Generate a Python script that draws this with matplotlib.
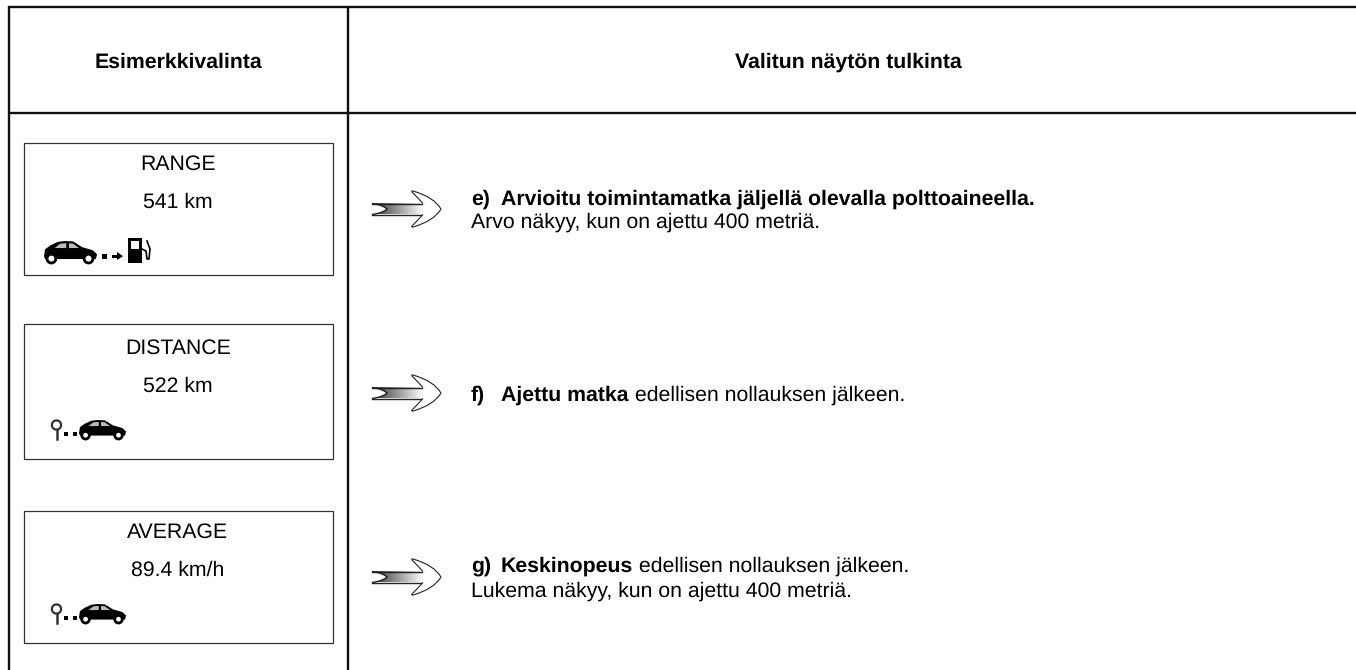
import numpy as np
import matplotlib
matplotlib.use("Agg")
import matplotlib.pyplot as plt
from matplotlib.patches import Rectangle, Circle, Polygon, PathPatch
from matplotlib.path import Path

plt.rcParams['font.family'] = ['Liberation Sans', 'DejaVu Sans']
plt.rcParams['text.hinting'] = 'no_hinting'
plt.rcParams['text.hinting_factor'] = 8

W, H = 1356, 670

col_titles = ["Esimerkkivalinta", "Valitun näytön tulkinta"]
box_titles = ["RANGE", "DISTANCE", "AVERAGE"]
box_values = ["541 km", "522 km", "89.4 km/h"]
note_tags = ["e)", "f)", "g)"]
note_bold = ["Arvioitu toimintamatka jäljellä olevalla polttoaineella.", "Ajettu matka", "Keskinopeus"]
note_rest = ["", " edellisen nollauksen jälkeen.", " edellisen nollauksen jälkeen."]
note_second = ["Arvo näkyy, kun on ajettu 400 metriä.", "", "Lukema näkyy, kun on ajettu 400 metriä."]

fig = plt.figure(figsize=(W / 100, H / 100), dpi=100)
ax = fig.add_axes([0, 0, 1, 1])
ax.set_xlim(0, W)
ax.set_ylim(H, 0)
ax.axis("off")

# table frame, no right edge in the original
ax.plot([8.5, 8.5], [6, 670], color="#111111", lw=1.7, solid_capstyle="butt")
ax.plot([347.8, 347.8], [6, 670], color="#111111", lw=1.7, solid_capstyle="butt")
ax.plot([7.5, 1356], [6.8, 6.8], color="#111111", lw=1.7, solid_capstyle="butt")
ax.plot([7.5, 1356], [112.8, 112.8], color="#111111", lw=1.7, solid_capstyle="butt")

ax.text(178.5, 68, col_titles[0], ha="center", va="baseline", fontsize=15.35, fontweight="bold")
ax.text(848, 68, col_titles[1], ha="center", va="baseline", fontsize=15.35, fontweight="bold")


def car(x0, x1, y0, y1):
    # small hatchback, nose to the right. y0 = bottom of wheels, y1 = roof
    def pt(a, b):
        return (x0 + (x1 - x0) * a / 100, y0 + (y1 - y0) * b / 100)

    body = [(0, 30), (2, 62), (12, 80), (26, 96), (40, 100), (55, 98), (72, 72), (92, 58), (100, 40), (98, 18), (2, 18)]
    ax.add_patch(Polygon([pt(a, b) for a, b in body], closed=True, fc="black", ec="none"))
    for win in ([(20, 68), (31, 88), (42, 90), (42, 68)], [(47, 68), (47, 90), (55, 88), (66, 68)]):
        ax.add_patch(Polygon([pt(a, b) for a, b in win], closed=True, fc="#bbbbbb", ec="none"))
    r = abs(y1 - y0) * 0.2
    for a in (14, 84):
        cx, cy = pt(a, 0)
        ax.add_patch(Circle((cx, cy - r), r, fc="white", ec="black", lw=2))


def pump_icon(y):
    car(44, 97, y, y - 22)
    ax.add_patch(Rectangle((102, y - 9), 5, 4.5, fc="black"))
    ax.add_patch(Rectangle((112, y - 8), 7, 2.5, fc="black"))
    ax.add_patch(Polygon([(117, y - 11), (123, y - 6.8), (117, y - 3)], fc="black"))
    ax.add_patch(Rectangle((128, y - 25), 14, 25, fc="black"))
    ax.add_patch(Rectangle((131, y - 22), 8, 8, fc="white"))
    ax.plot([142, 146, 147, 149, 150, 147], [y - 14, y - 12, y - 4, y - 4, y - 14, y - 22], color="black", lw=1.2)


def trip_icon(y):
    ax.add_patch(Circle((56.5, y - 14), 4.6, fc="white", ec="#333333", lw=1.6))
    ax.plot([56.5, 56.5], [y - 9, y + 0], color="#333333", lw=1.8)
    ax.add_patch(Rectangle((64, y - 7), 4, 4, fc="black"))
    ax.add_patch(Rectangle((72.5, y - 7), 4, 4, fc="black"))
    car(79, 126, y, y - 19)


def arrow(y):
    x0, xe = 372, 424
    grad = np.linspace(0.2, 1.0, 100).reshape(1, -1)
    ax.imshow(grad, cmap="gray", vmin=0, vmax=1, extent=[x0, xe, y + 5.5, y - 5.5], aspect="auto", zorder=2)
    # white out the notch in the tail
    notch = Path([(371, y - 6), (372, y - 5.5), (383, y - 4), (387, y), (383, y + 4), (372, y + 5.5), (371, y + 6), (371, y - 6)],
                 [Path.MOVETO, Path.LINETO, Path.CURVE3, Path.CURVE3, Path.CURVE3, Path.CURVE3, Path.LINETO, Path.CLOSEPOLY])
    ax.add_patch(PathPatch(notch, fc="white", ec="none", zorder=3))
    ax.plot([372, 423], [y - 5.5, y - 5.5], color="#222222", lw=1, zorder=4)
    ax.plot([372, 423], [y + 5.5, y + 5.5], color="#222222", lw=1, zorder=4)
    tail = Path([(372, y - 5.5), (383, y - 4), (387, y), (383, y + 4), (372, y + 5.5)],
                [Path.MOVETO, Path.CURVE3, Path.CURVE3, Path.CURVE3, Path.CURVE3])
    ax.add_patch(PathPatch(tail, fc="none", ec="#222222", lw=1, zorder=4))
    head = Path([(423, y - 5.5), (418, y - 11), (412, y - 17), (411, y - 18.5), (413, y - 18),
                 (434, y - 12), (441, y), (434, y + 12), (413, y + 18), (411, y + 18.5), (412, y + 17),
                 (418, y + 11), (423, y + 5.5)],
                [Path.MOVETO, Path.CURVE3, Path.CURVE3, Path.CURVE3, Path.CURVE3,
                 Path.CURVE3, Path.CURVE3, Path.CURVE3, Path.CURVE3, Path.CURVE3, Path.CURVE3,
                 Path.CURVE3, Path.CURVE3])
    ax.add_patch(PathPatch(head, fc="white", ec="#222222", lw=0.8, zorder=4))
    ax.set_xlim(0, W)
    ax.set_ylim(H, 0)


box_tops = [143, 324, 511]
box_bottoms = [275, 459, 643]
title_y = [170, 354, 538]
value_y = [208, 392, 576]
arrow_y = [209, 393, 577]
note_y = [204.5, 401, 572]
second_y = [228, 0, 596.5]

for i in range(3):
    ax.add_patch(Rectangle((24, box_tops[i]), 309, box_bottoms[i] - box_tops[i], fc="white", ec="#333333", lw=0.9))
    ax.text(178, title_y[i], box_titles[i], ha="center", va="baseline", fontsize=15.35)
    ax.text(178, value_y[i], box_values[i], ha="center", va="baseline", fontsize=15.35)
    arrow(arrow_y[i])
    ax.text(471, note_y[i], note_tags[i], ha="left", va="baseline", fontsize=15.35, fontweight="bold")
    t = ax.text(501, note_y[i], note_bold[i], ha="left", va="baseline", fontsize=15.35, fontweight="bold")
    if note_rest[i]:
        fig.canvas.draw()
        x = ax.transData.inverted().transform(t.get_window_extent().corners())[2, 0]
        ax.text(x, note_y[i], note_rest[i], ha="left", va="baseline", fontsize=15.35)
    if note_second[i]:
        ax.text(471, second_y[i], note_second[i], ha="left", va="baseline", fontsize=15.35)

pump_icon(263)
trip_icon(439)
trip_icon(623)

fig.savefig("out.png", dpi=100)
